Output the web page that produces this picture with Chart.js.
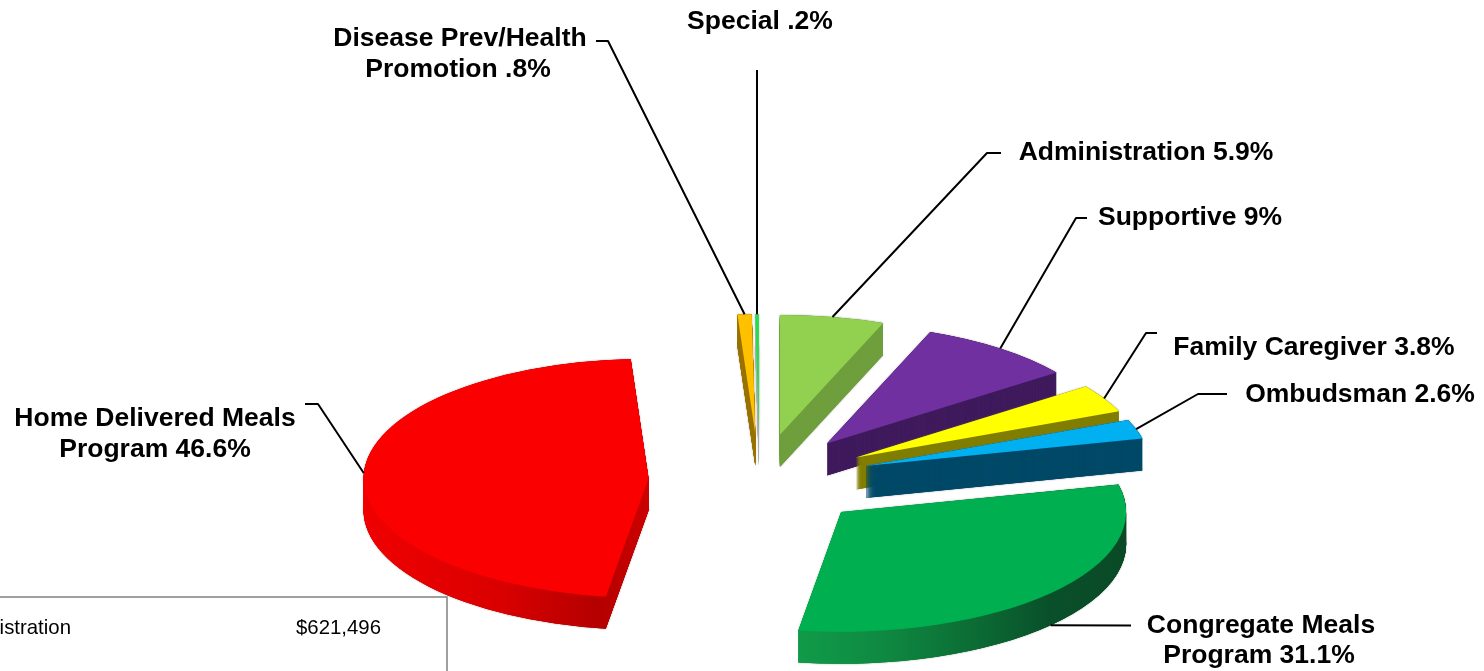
<!DOCTYPE html>
<html>
<head>
<meta charset="utf-8">
<title>Budget share by program</title>
<script src="https://cdn.jsdelivr.net/npm/chart.js@4"></script>
<style>
  html, body { margin: 0; padding: 0; background: #fff; overflow: hidden; }
  canvas { display: block; }
</style>
</head>
<body>
<canvas id="pie" width="1484" height="671"></canvas>
<script>
// data, clockwise from 12 o'clock
const categories = ['Administration', 'Supportive', 'Family Caregiver', 'Ombudsman', 'Congregate Meals Program', 'Home Delivered Meals Program', 'Disease Prev/Health Promotion', 'Special'];
const shares = [5.9, 9, 3.8, 2.6, 31.1, 46.6, 0.8, 0.2];
const shareLabels = ['5.9%', '9%', '3.8%', '2.6%', '31.1%', '46.6%', '.8%', '.2%'];
const tableRow = ['Administration', '$621,496'];

const topColors = ['#92d050', '#7030a0', '#ffff00', '#00b0f0', '#00b050', '#fa0000', '#ffc000', '#22e04a'];
// side wall colours, [x, colour] stops where a slice has shading along its rim
const wallColors = [
  [[0, '#6f9e3d']],
  [[0, '#401c5e']],
  [[0, '#807f00']],
  [[0, '#004a68']],
  [[800, '#109a48'], [880, '#0f8a42'], [980, '#0b6a33'], [1050, '#09502a'], [1128, '#0a4a26']],
  [[362, '#f00000'], [500, '#da0000'], [600, '#b40000'], [648, '#cc0000']],
  [[0, '#9a7400']],
  [[0, '#b0b0b0']]
];

// 3D look
const SQUASH = 0.42;
const DEPTH = 32;
const DEPTH_STEP = 0.25;
const EXPLODE = 111;
const RADIUS = 285;

// label lines [text, centre x, middle y] and leader bend points, one per slice
const labelLayout = [
  { lines: [[categories[0] + ' ' + shareLabels[0], 1146, 153]], leader: [[1001, 153], [987, 153]] },
  { lines: [[categories[1] + ' ' + shareLabels[1], 1190, 218]], leader: [[1087, 218], [1076, 218]] },
  { lines: [[categories[2] + ' ' + shareLabels[2], 1314, 348]], leader: [[1157, 333], [1146, 333]] },
  { lines: [[categories[3] + ' ' + shareLabels[3], 1360, 395]], leader: [[1227, 394], [1198, 394]] },
  { lines: [['Congregate Meals', 1261, 626], ['Program ' + shareLabels[4], 1259, 656]], leader: [[1131, 625.6]], onWall: true },
  { lines: [['Home Delivered Meals', 155, 419], ['Program ' + shareLabels[5], 155, 450]], leader: [[305, 404], [318, 404]] },
  { lines: [['Disease Prev/Health', 460, 39], ['Promotion ' + shareLabels[6], 458, 70]], leader: [[596, 41], [608, 41]] },
  { lines: [[categories[7] + ' ' + shareLabels[7], 760, 22]], leader: [[757, 70]] }
];

const tiltedPie = {
  id: 'tiltedPie',
  beforeDatasetsDraw(chart) {
    const ctx = chart.ctx;
    const arcs = chart.getDatasetMeta(0).data;

    // table fragment sits behind the pie
    ctx.save();
    ctx.strokeStyle = '#808080';
    ctx.lineWidth = 1.5;
    ctx.beginPath();
    ctx.moveTo(0, 597);
    ctx.lineTo(447, 597);
    ctx.lineTo(447, 671);
    ctx.stroke();
    ctx.fillStyle = '#000';
    ctx.font = '20.4px "Liberation Sans"';
    ctx.textBaseline = 'middle';
    ctx.textAlign = 'right';
    ctx.fillText(tableRow[0], 71, 628);
    ctx.fillText(tableRow[1], 381, 628);
    ctx.restore();

    arcs.forEach((arc, i) => {
      const mid = (arc.startAngle + arc.endAngle) / 2;
      const dx = Math.cos(mid) * EXPLODE;
      const dy = Math.sin(mid) * EXPLODE * SQUASH;
      const original = arc.options;

      const drawAt = (depth) => {
        ctx.save();
        ctx.translate(arc.x + dx, arc.y + dy + depth);
        ctx.scale(1, SQUASH);
        ctx.translate(-arc.x, -arc.y);
        arc.draw(ctx);
        ctx.restore();
      };

      const stops = wallColors[i];
      let wall = stops[0][1];
      if (stops.length > 1) {
        const first = stops[0][0];
        const last = stops[stops.length - 1][0];
        // stops are page x, the fill runs in the slice's own x
        wall = ctx.createLinearGradient(first - dx, 0, last - dx, 0);
        stops.forEach(s => wall.addColorStop((s[0] - first) / (last - first), s[1]));
      }
      arc.options = { ...original, backgroundColor: wall };

      // faint grey edge round the slice
      ctx.save();
      ctx.shadowColor = 'rgba(110,110,110,0.7)';
      ctx.shadowBlur = 2;
      drawAt(0);
      drawAt(DEPTH);
      ctx.restore();

      // side wall as a stack of darker copies, top surface last
      for (let d = DEPTH; d > 0; d -= DEPTH_STEP) drawAt(d);
      arc.options = original;
      drawAt(0);
    });

    // leaders and labels
    ctx.save();
    ctx.strokeStyle = '#000';
    ctx.lineWidth = 2;
    ctx.lineJoin = 'round';
    ctx.fillStyle = '#000';
    ctx.font = 'bold 26.5px "Liberation Sans"';
    ctx.textAlign = 'center';
    ctx.textBaseline = 'middle';
    arcs.forEach((arc, i) => {
      const layout = labelLayout[i];
      const mid = (arc.startAngle + arc.endAngle) / 2;
      const rimX = arc.x + Math.cos(mid) * (EXPLODE + arc.outerRadius);
      const rimY = arc.y + Math.sin(mid) * (EXPLODE + arc.outerRadius) * SQUASH + (layout.onWall ? DEPTH : 0);
      ctx.beginPath();
      layout.leader.forEach((p, k) => k === 0 ? ctx.moveTo(p[0], p[1]) : ctx.lineTo(p[0], p[1]));
      ctx.lineTo(rimX, rimY);
      ctx.stroke();
      layout.lines.forEach(l => ctx.fillText(l[0], l[1], l[2]));
    });
    ctx.restore();

    return false;
  }
};

new Chart(document.getElementById('pie'), {
  type: 'pie',
  data: {
    labels: categories,
    datasets: [{
      data: shares,
      backgroundColor: topColors,
      borderWidth: 0
    }]
  },
  options: {
    responsive: false,
    animation: false,
    radius: RADIUS,
    // puts the pie centre at (759.5, 480.5)
    layout: { padding: { left: 35, top: 290 } },
    plugins: {
      legend: { display: false },
      tooltip: { enabled: false }
    }
  },
  plugins: [tiltedPie]
});
</script>
</body>
</html>
